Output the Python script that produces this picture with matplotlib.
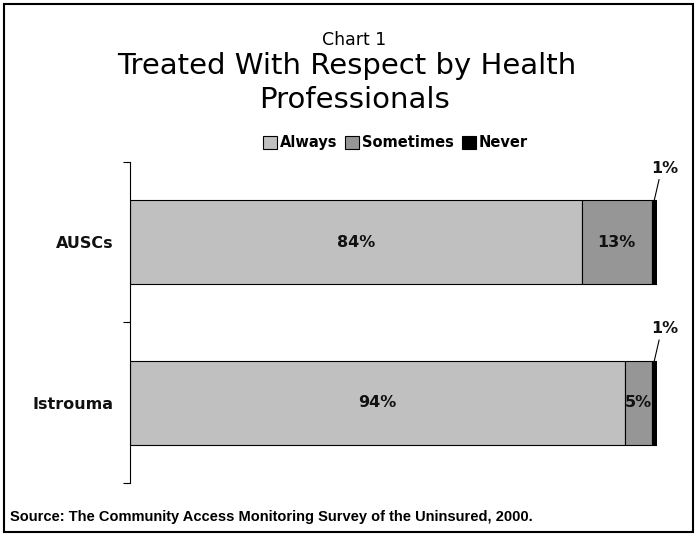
import matplotlib.pyplot as plt
import numpy as np
from matplotlib.patches import Rectangle

plt.rcParams['font.family'] = ['DejaVu Sans']

groups = ['AUSCs', 'Istrouma']
series = ['Always', 'Sometimes', 'Never']
always = [84, 94]
sometimes = [13, 5]
never = [1, 1]
colors = ['#c0c0c0', '#969696', '#000000']

vals = np.array([always, sometimes, never], dtype=float)
pct = vals / vals.sum(axis=0) * 100

fig = plt.figure(figsize=(6.97, 5.37), dpi=100)
fig.patches.append(Rectangle((0.006, 0.009), 0.988, 0.983, transform=fig.transFigure,
                             fill=False, edgecolor='black', linewidth=1.5))

ax = fig.add_axes([0.1865, 0.1006, 0.7561, 0.5978])
y = np.arange(len(groups))
left = np.zeros(len(groups))
for i, name in enumerate(series):
    ax.barh(y, pct[i], left=left, height=0.525, color=colors[i],
            edgecolor='black', linewidth=0.8, label=name)
    for j in range(len(groups)):
        cx = left[j] + pct[i][j] / 2
        if i < 2:
            ax.text(cx, y[j], f'{vals[i][j]:.0f}%', ha='center', va='center',
                    fontsize=11.5, fontweight='bold', color='#111111')
        else:
            # small slice: label above the bar with a leader line
            ax.plot([cx, cx + 0.9], [y[j] - 0.2625, y[j] - 0.39], color='black', linewidth=0.8,
                    clip_on=False)
            ax.text(cx + 2.0, y[j] - 0.46, f'{vals[i][j]:.0f}%', ha='center', va='center',
                    fontsize=11.5, fontweight='bold', color='#111111')
    left += pct[i]

ax.set_xlim(0, 100)
ax.set_ylim(1.5, -0.5)
ax.set_yticks([-0.5, 0.5, 1.5])
ax.set_yticklabels([])
ax.set_yticks(y, minor=True)
ax.set_yticklabels(groups, minor=True, fontsize=11.5, fontweight='bold', color='#111111')
ax.tick_params(axis='y', which='minor', length=0, pad=12)
ax.tick_params(axis='y', which='major', length=5, direction='out')
ax.set_xticks([])
for s in ['top', 'right', 'bottom']:
    ax.spines[s].set_visible(False)

fig.text(0.508, 1 - 40 / 537, 'Chart 1', ha='center', va='center', fontsize=12.5)
fig.text(0.498, 1 - 66 / 537, 'Treated With Respect by Health', ha='center', va='center',
         fontsize=21)
fig.text(0.508, 1 - 100 / 537, 'Professionals', ha='center', va='center', fontsize=21)

ax.legend(loc='center', bbox_to_anchor=(0.567, 0.734), bbox_transform=fig.transFigure, ncol=3,
          frameon=False, prop={'weight': 'bold', 'size': 10.5}, handlelength=0.95,
          handleheight=0.95, handletextpad=0.2, columnspacing=0.55)

fig.text(0.014, 1 - 517 / 537, 'Source: The Community Access Monitoring Survey of the Uninsured, 2000.',
         ha='left', va='center', fontsize=10.5, fontweight='bold', family='Liberation Sans')

plt.savefig('out.png', dpi=100)
